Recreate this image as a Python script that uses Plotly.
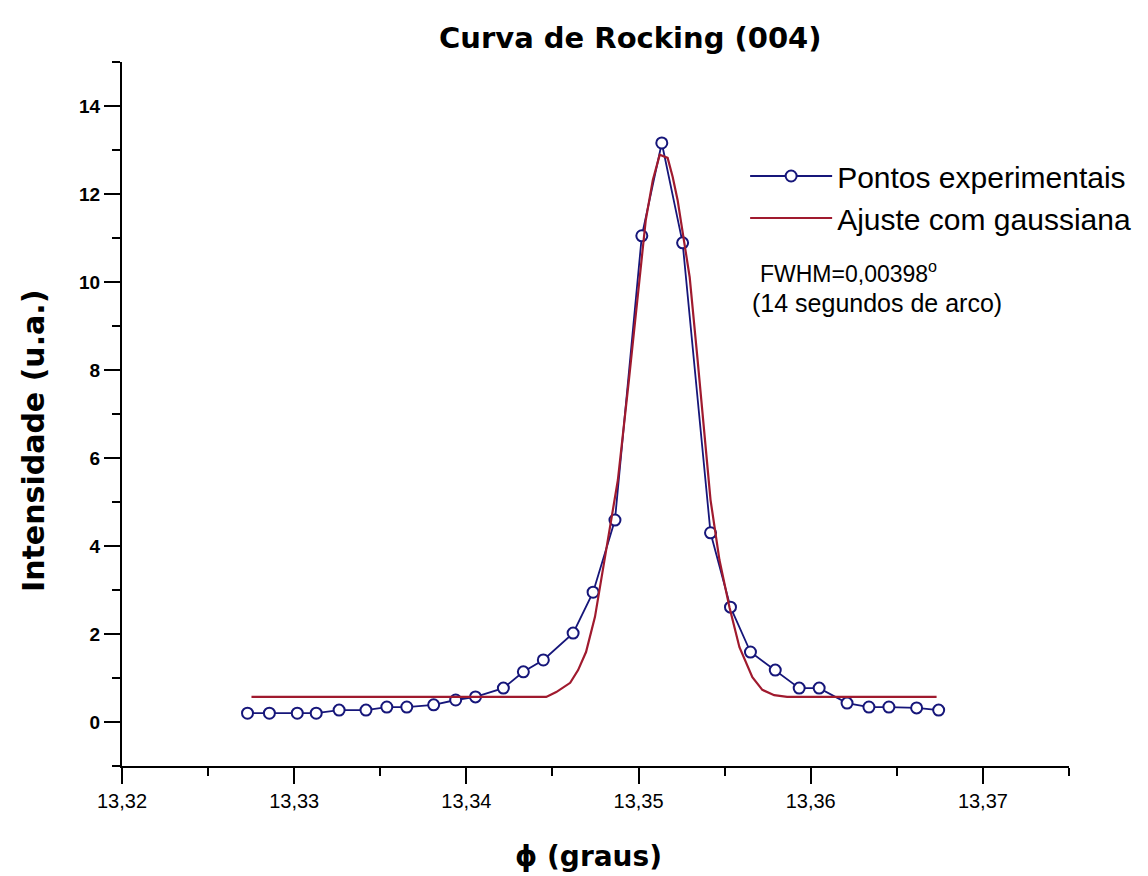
import plotly.graph_objects as go

# Experimental points (phi in degrees, intensity in a.u.)
exp_x = [13.32729, 13.32856, 13.33018, 13.33128, 13.33261, 13.33417, 13.33538, 13.33654,
         13.33810, 13.33938, 13.34053, 13.34215, 13.34331, 13.34447, 13.34620, 13.34736,
         13.34863, 13.35019, 13.35135, 13.35256, 13.35418, 13.35534, 13.35650, 13.35794,
         13.35933, 13.36049, 13.36211, 13.36338, 13.36454, 13.36615, 13.36743]
exp_y = [0.20, 0.20, 0.20, 0.20, 0.27, 0.27, 0.34, 0.34,
         0.39, 0.50, 0.57, 0.77, 1.14, 1.41, 2.02, 2.95,
         4.59, 11.05, 13.16, 10.89, 4.30, 2.61, 1.59, 1.18,
         0.77, 0.77, 0.43, 0.34, 0.34, 0.32, 0.27]

# Gaussian fit curve
fit_x = [13.32752, 13.34464, 13.34522, 13.34603, 13.34649, 13.34695, 13.34747, 13.34805,
         13.34840, 13.34880, 13.34944, 13.35008, 13.35042, 13.35083, 13.35123, 13.35169,
         13.35198, 13.35227, 13.35274, 13.35297, 13.35343, 13.35418, 13.35470, 13.35528,
         13.35586, 13.35661, 13.35719, 13.35788, 13.35863, 13.36731]
fit_y = [0.57, 0.57, 0.68, 0.89, 1.18, 1.59, 2.39, 3.75,
         4.59, 5.50, 7.77, 10.11, 11.41, 12.32, 12.89, 12.82,
         12.39, 11.86, 10.66, 10.11, 8.23, 5.05, 3.68, 2.61,
         1.70, 1.02, 0.73, 0.61, 0.57, 0.57]

xtick_vals = [13.32, 13.33, 13.34, 13.35, 13.36, 13.37]
xtick_text = ["13,32", "13,33", "13,34", "13,35", "13,36", "13,37"]
ytick_vals = [0, 2, 4, 6, 8, 10, 12, 14]
ytick_text = ["0", "2", "4", "6", "8", "10", "12", "14"]

navy = "#16167a"
wine = "#a01a2e"

fig = go.Figure()
fig.add_trace(go.Scatter(
    x=exp_x, y=exp_y, mode="lines+markers", name="Pontos experimentais",
    line=dict(color=navy, width=1.8),
    marker=dict(symbol="circle", size=11, color="white", line=dict(color=navy, width=2)),
))
fig.add_trace(go.Scatter(
    x=fit_x, y=fit_y, mode="lines", name="Ajuste com gaussiana",
    line=dict(color=wine, width=2.2),
))

axis_common = dict(
    showline=True, linecolor="black", linewidth=2, showgrid=False, zeroline=False,
    ticks="outside", ticklen=16, tickwidth=2, tickcolor="black",
)
fig.update_xaxes(
    range=[13.32, 13.375], tickmode="array", tickvals=xtick_vals, ticktext=xtick_text,
    tickfont=dict(family="Arial", size=20, color="black"),
    minor=dict(ticks="outside", tick0=13.32, dtick=0.005, ticklen=8, tickwidth=2, tickcolor="black"),
    **axis_common,
)
fig.update_yaxes(
    range=[-1, 15], tickmode="array", tickvals=ytick_vals, ticktext=ytick_text,
    tickfont=dict(family="Arial", size=19, color="black", weight="bold"),
    minor=dict(ticks="outside", tick0=-1, dtick=1, ticklen=8, tickwidth=2, tickcolor="black"),
    **axis_common,
)

title_font = dict(family="DejaVu Sans", size=29, color="black", weight="bold")
ytitle_font = dict(family="DejaVu Sans", size=30, color="black", weight="bold")
xtitle_font = dict(family="DejaVu Sans", size=28, color="black", weight="bold")
fig.update_layout(
    width=1148, height=876, autosize=False,
    margin=dict(l=122, r=75, t=62, b=110),
    plot_bgcolor="white", paper_bgcolor="white",
    showlegend=True,
    legend=dict(x=0.658, y=0.875, xanchor="left", yanchor="top",
                bgcolor="rgba(0,0,0,0)", itemwidth=82,
                font=dict(family="Arial", size=30, color="black"),
                tracegroupgap=0),
    annotations=[
        dict(text="Curva de Rocking (004)", xref="paper", yref="paper", x=0.537, y=1.034,
             xanchor="center", yanchor="middle", showarrow=False, font=title_font),
        dict(text="Intensidade (u.a.)", xref="paper", yref="paper", x=-0.094, y=0.463,
             xanchor="center", yanchor="middle", showarrow=False, textangle=-90, font=ytitle_font),
        dict(text="ϕ (graus)", xref="paper", yref="paper", x=0.493, y=-0.128,
             xanchor="center", yanchor="middle", showarrow=False, font=xtitle_font),
        dict(text="FWHM=0,00398<sup>o</sup>", xref="paper", yref="paper", x=0.672, y=0.702,
             xanchor="left", yanchor="middle", showarrow=False,
             font=dict(family="Arial", size=23, color="black")),
        dict(text="(14 segundos de arco)", xref="paper", yref="paper", x=0.663, y=0.658,
             xanchor="left", yanchor="middle", showarrow=False,
             font=dict(family="Arial", size=25, color="black")),
    ],
)

fig.write_html("out.html")
